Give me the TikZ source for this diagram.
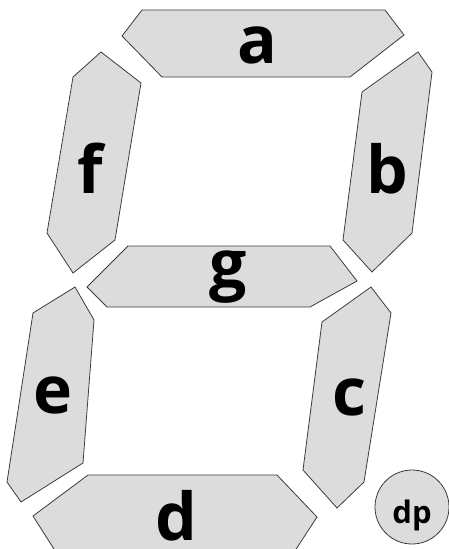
\documentclass[tikz,border=0pt]{standalone}
\usepackage{fontspec}
\setmainfont{Open Sans}
\usepackage{tikz}
\definecolor{segfill}{RGB}{220,220,220}
\definecolor{segline}{RGB}{60,60,60}

\begin{document}
\begin{tikzpicture}[x=1pt, y=-1pt,
  segment/.style={draw=segline, fill=segfill, line width=0.8pt, line join=miter},
  seglabel/.style={anchor=base, inner sep=0pt, font=\fontsize{66}{66}\selectfont\bfseries},
  dplabel/.style={anchor=base, inner sep=0pt, font=\fontsize{31}{31}\selectfont\bfseries}]
  \useasboundingbox (0,0) rectangle (449,549);

  % top and middle segments
  \draw[segment] (142,10) -- (385,10) -- (404,35) -- (350,77) -- (162,77) -- (122,36) -- cycle;
  \node[seglabel] (a) at (257,63) {a};
  \draw[segment] (128,246) -- (330,246) -- (357,281) -- (310,307) -- (107,307) -- (87,287) -- cycle;
  \node[seglabel] (g) at (228,287) {g};

  % upper verticals
  \draw[segment] (101,52) -- (141,83) -- (115,240) -- (73,273) -- (47,233) -- (73,77) -- cycle;
  \node[seglabel] (f) at (90,193) {f};
  \draw[segment] (418,52) -- (432,72) -- (412,233) -- (372,272) -- (343,240) -- (362,92) -- cycle;
  \node[seglabel] (b) at (387,193) {b};

  % lower verticals
  \draw[segment] (75,287) -- (94,320) -- (83,463) -- (21,502) -- (7,482) -- (33,313) -- cycle;
  \node[seglabel] (e) at (53,413) {e};
  \draw[segment] (371,287) -- (391,313) -- (364,482) -- (337,508) -- (303,470) -- (322,322) -- cycle;
  \node[seglabel] (c) at (349,415) {c};

  % bottom segment (runs past the lower edge)
  \draw[segment] (88,475) -- (277,475) -- (317,517) -- (289,560) -- (61,560) -- (33,516) -- cycle;
  \node[seglabel] (d) at (176,540) {d};

  % decimal point
  \draw[segment] (412,507) circle (37);
  \node[dplabel] (dp) at (412,523) {dp};
\end{tikzpicture}
\end{document}
